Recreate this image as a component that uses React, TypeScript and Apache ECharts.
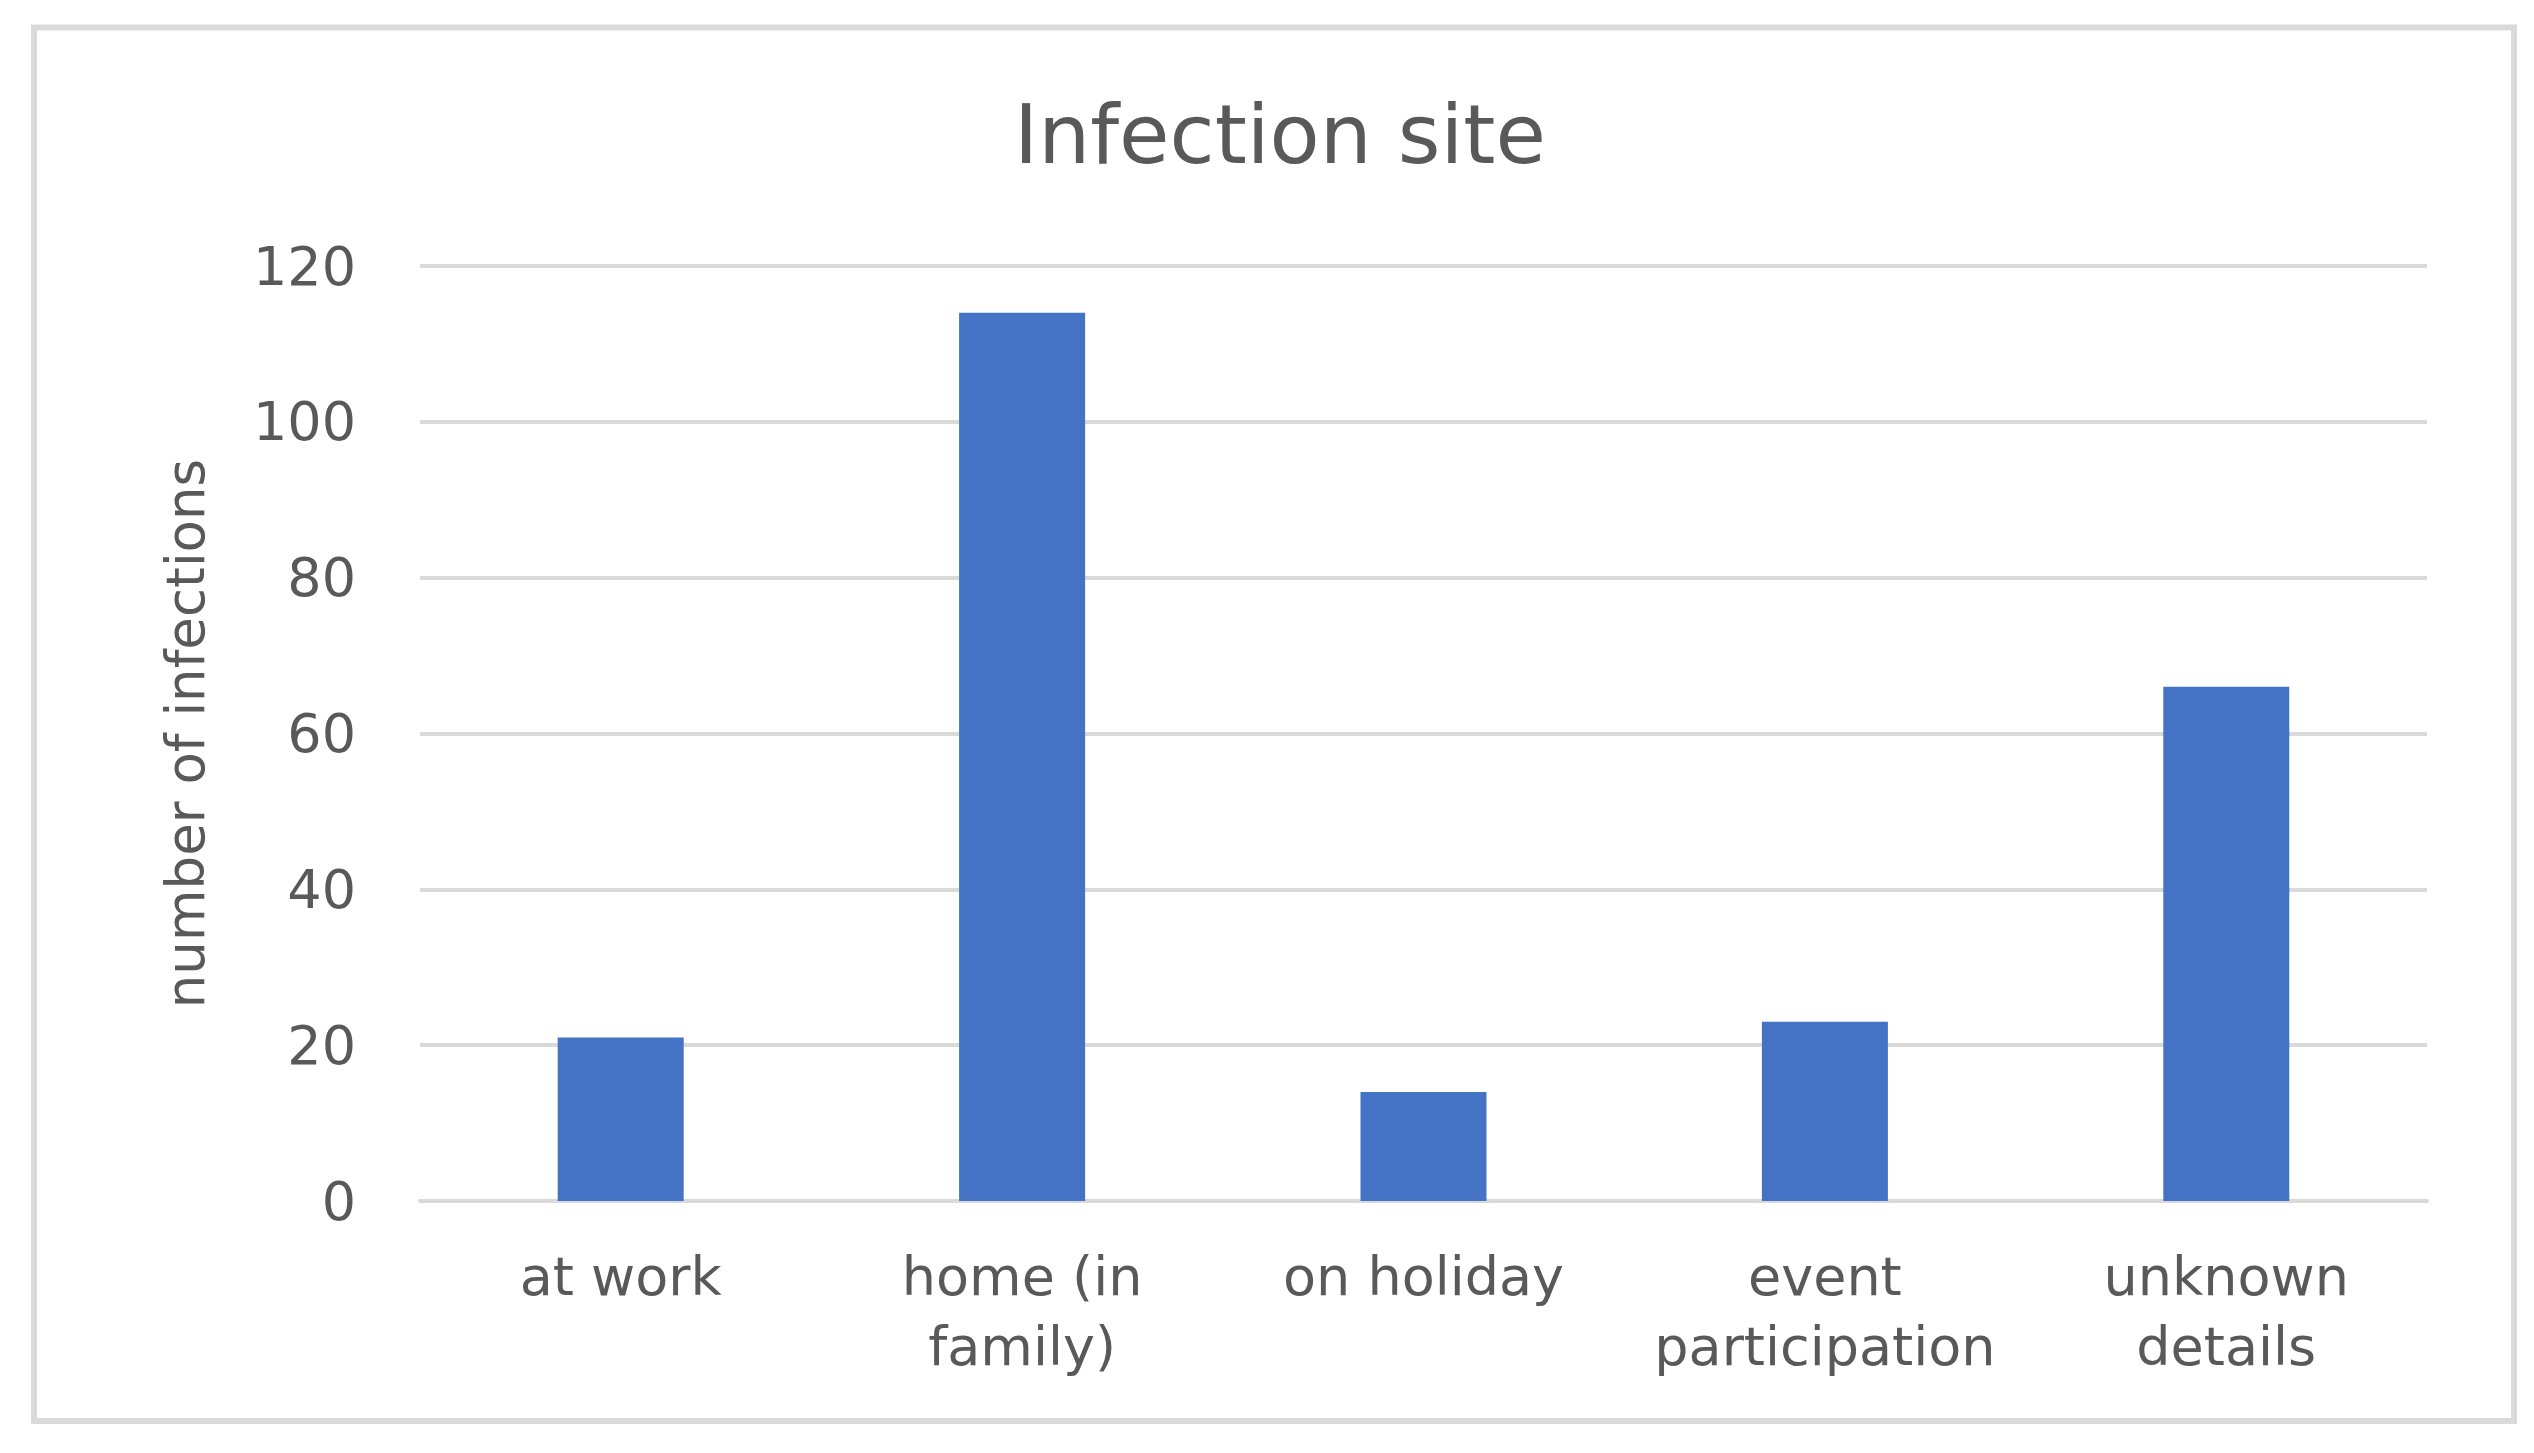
import React, { useEffect, useRef } from "react";
import * as echarts from "echarts";

const titleText = "Infection site";
const yAxisName = "number of infections";
const categories = ["at work", "home (in\nfamily)", "on holiday", "event\nparticipation", "unknown\ndetails"];
const infections = [21, 114, 14, 23, 66];
const yTicks = { min: 0, max: 120, interval: 20 };

const FONT = "'DejaVu Sans', 'Open Sans', sans-serif";
const TEXT = "#595959";
const GRID = "#d9d9d9";

export default function App() {
  const ref = useRef<HTMLDivElement>(null);
  useEffect(() => {
    if (!ref.current) return;
    const chart = echarts.init(ref.current, null, { renderer: "svg" });
    chart.setOption({
      animation: false,
      backgroundColor: "#ffffff",
      title: {
        text: titleText,
        left: 1275,
        top: 88,
        textAlign: "center",
        textStyle: { fontFamily: FONT, fontSize: 82, fontWeight: "normal", color: TEXT },
      },
      grid: { left: 420, right: 107, top: 266, bottom: 252, containLabel: false },
      xAxis: {
        type: "category",
        data: categories,
        axisTick: { show: false },
        axisLine: { show: true, lineStyle: { color: GRID, width: 4 } },
        axisLabel: {
          fontFamily: FONT,
          fontSize: 54,
          color: TEXT,
          lineHeight: 70,
          margin: 40,
          interval: 0,
        },
      },
      yAxis: {
        type: "value",
        min: yTicks.min,
        max: yTicks.max,
        interval: yTicks.interval,
        name: yAxisName,
        nameLocation: "middle",
        nameGap: 208,
        nameTextStyle: { fontFamily: FONT, fontSize: 53, color: TEXT },
        axisLine: { show: false },
        axisTick: { show: false },
        splitLine: { show: true, lineStyle: { color: GRID, width: 4 } },
        axisLabel: { fontFamily: FONT, fontSize: 54, color: TEXT, margin: 64 },
      },
      series: [
        {
          type: "bar",
          data: infections,
          barWidth: 126,
          itemStyle: { color: "#4472C4" },
        },
      ],
      graphic: [
        {
          type: "rect",
          shape: { x: 34, y: 27.5, width: 2480, height: 1393.5 },
          style: { fill: "none", stroke: GRID, lineWidth: 6 },
          silent: true,
        },
      ],
    });
    return () => chart.dispose();
  }, []);
  return (
    <div
      ref={ref}
      style={{ position: "absolute", left: 0, top: 0, width: 2534, height: 1453 }}
    />
  );
}
